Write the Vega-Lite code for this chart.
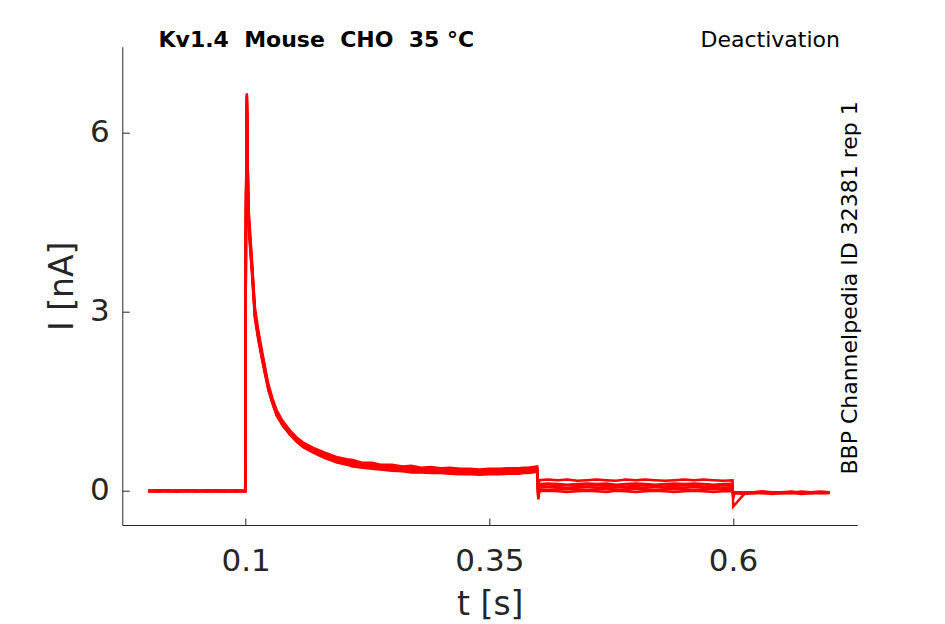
{
  "$schema": "https://vega.github.io/schema/vega-lite/v6.json",
  "width": 735,
  "height": 478.3,
  "autosize": {"type": "none"},
  "padding": {"left": 122.3, "top": 46.7, "right": 87.7, "bottom": 99},
  "config": {
    "font": "DejaVu Sans",
    "view": {"stroke": null},
    "axis": {
      "grid": false,
      "domainColor": "#262626",
      "tickColor": "#262626",
      "labelColor": "#262626",
      "titleColor": "#262626",
      "labelFont": "DejaVu Sans",
      "titleFont": "DejaVu Sans",
      "labelFontSize": 31,
      "titleFontSize": 33,
      "titleFontWeight": "normal",
      "tickSize": -7,
      "domainWidth": 1,
      "tickWidth": 1
    }
  },
  "datasets": {
    "sweeps": [
      {"s":1,"t":0,"i":0.01},{"s":1,"t":0.01,"i":-0.01},{"s":1,"t":0.02,"i":0.0},{"s":1,"t":0.03,"i":0.01},{"s":1,"t":0.04,"i":-0.01},{"s":1,"t":0.05,"i":0.0},{"s":1,"t":0.06,"i":0.01},{"s":1,"t":0.07,"i":-0.01},{"s":1,"t":0.08,"i":0.0},{"s":1,"t":0.09,"i":0.01},{"s":1,"t":0.0995,"i":0.0},
      {"s":1,"t":0.1003,"i":4.8},{"s":1,"t":0.1012,"i":6.65},{"s":1,"t":0.1027,"i":4.79},{"s":1,"t":0.1045,"i":4.33},{"s":1,"t":0.1062,"i":3.92},{"s":1,"t":0.108,"i":3.45},{"s":1,"t":0.1095,"i":3.06},{"s":1,"t":0.113,"i":2.68},{"s":1,"t":0.1164,"i":2.37},{"s":1,"t":0.12,"i":2.06},{"s":1,"t":0.1232,"i":1.79},{"s":1,"t":0.1275,"i":1.55},{"s":1,"t":0.1318,"i":1.35},{"s":1,"t":0.138,"i":1.17},{"s":1,"t":0.1455,"i":1.01},{"s":1,"t":0.152,"i":0.9},{"s":1,"t":0.159,"i":0.81},{"s":1,"t":0.1694,"i":0.72},{"s":1,"t":0.18,"i":0.65},{"s":1,"t":0.193,"i":0.57},{"s":1,"t":0.2036,"i":0.53},
      {"s":1,"t":0.21,"i":0.52},{"s":1,"t":0.22,"i":0.47},{"s":1,"t":0.23,"i":0.47},{"s":1,"t":0.2378,"i":0.44},{"s":1,"t":0.25,"i":0.44},{"s":1,"t":0.261,"i":0.41},{"s":1,"t":0.27,"i":0.42},{"s":1,"t":0.28,"i":0.39},{"s":1,"t":0.29,"i":0.4},{"s":1,"t":0.3,"i":0.38},{"s":1,"t":0.31,"i":0.39},{"s":1,"t":0.32,"i":0.37},{"s":1,"t":0.33,"i":0.37},{"s":1,"t":0.34,"i":0.36},{"s":1,"t":0.35,"i":0.37},{"s":1,"t":0.36,"i":0.37},{"s":1,"t":0.37,"i":0.38},{"s":1,"t":0.38,"i":0.38},{"s":1,"t":0.385,"i":0.39},{"s":1,"t":0.39,"i":0.39},{"s":1,"t":0.399,"i":0.41},
      {"s":1,"t":0.4002,"i":0.06},{"s":1,"t":0.4012,"i":0.18},{"s":1,"t":0.41,"i":0.19},{"s":1,"t":0.42,"i":0.18},{"s":1,"t":0.43,"i":0.19},{"s":1,"t":0.44,"i":0.17},{"s":1,"t":0.45,"i":0.18},{"s":1,"t":0.46,"i":0.19},{"s":1,"t":0.47,"i":0.18},{"s":1,"t":0.48,"i":0.17},{"s":1,"t":0.49,"i":0.19},{"s":1,"t":0.5,"i":0.18},{"s":1,"t":0.51,"i":0.19},{"s":1,"t":0.52,"i":0.18},{"s":1,"t":0.53,"i":0.17},{"s":1,"t":0.54,"i":0.18},{"s":1,"t":0.55,"i":0.19},{"s":1,"t":0.56,"i":0.18},{"s":1,"t":0.57,"i":0.19},{"s":1,"t":0.58,"i":0.18},{"s":1,"t":0.59,"i":0.17},{"s":1,"t":0.5995,"i":0.18},
      {"s":1,"t":0.6002,"i":-0.26},{"s":1,"t":0.612,"i":-0.04},{"s":1,"t":0.62,"i":-0.03},{"s":1,"t":0.63,"i":-0.01},{"s":1,"t":0.64,"i":-0.02},{"s":1,"t":0.65,"i":-0.04},{"s":1,"t":0.66,"i":-0.03},{"s":1,"t":0.67,"i":-0.01},{"s":1,"t":0.68,"i":-0.02},{"s":1,"t":0.69,"i":-0.04},{"s":1,"t":0.699,"i":-0.03},

      {"s":2,"t":0,"i":-0.01},{"s":2,"t":0.01,"i":0.0},{"s":2,"t":0.02,"i":0.01},{"s":2,"t":0.03,"i":-0.01},{"s":2,"t":0.04,"i":0.0},{"s":2,"t":0.05,"i":0.01},{"s":2,"t":0.06,"i":-0.01},{"s":2,"t":0.07,"i":0.0},{"s":2,"t":0.08,"i":0.01},{"s":2,"t":0.09,"i":-0.01},{"s":2,"t":0.0995,"i":0.0},
      {"s":2,"t":0.1003,"i":4.6},{"s":2,"t":0.1012,"i":6.55},{"s":2,"t":0.1027,"i":4.65},{"s":2,"t":0.1045,"i":4.2},{"s":2,"t":0.1062,"i":3.81},{"s":2,"t":0.108,"i":3.35},{"s":2,"t":0.1095,"i":2.97},{"s":2,"t":0.113,"i":2.6},{"s":2,"t":0.1164,"i":2.3},{"s":2,"t":0.12,"i":2.0},{"s":2,"t":0.1232,"i":1.74},{"s":2,"t":0.1275,"i":1.5},{"s":2,"t":0.1318,"i":1.31},{"s":2,"t":0.138,"i":1.14},{"s":2,"t":0.1455,"i":0.99},{"s":2,"t":0.152,"i":0.88},{"s":2,"t":0.159,"i":0.79},{"s":2,"t":0.1694,"i":0.71},{"s":2,"t":0.18,"i":0.63},{"s":2,"t":0.193,"i":0.55},{"s":2,"t":0.2036,"i":0.51},
      {"s":2,"t":0.21,"i":0.49},{"s":2,"t":0.22,"i":0.46},{"s":2,"t":0.23,"i":0.45},{"s":2,"t":0.2378,"i":0.43},{"s":2,"t":0.25,"i":0.42},{"s":2,"t":0.261,"i":0.4},{"s":2,"t":0.27,"i":0.39},{"s":2,"t":0.28,"i":0.38},{"s":2,"t":0.29,"i":0.38},{"s":2,"t":0.3,"i":0.37},{"s":2,"t":0.31,"i":0.36},{"s":2,"t":0.32,"i":0.36},{"s":2,"t":0.33,"i":0.35},{"s":2,"t":0.34,"i":0.35},{"s":2,"t":0.35,"i":0.35},{"s":2,"t":0.36,"i":0.36},{"s":2,"t":0.37,"i":0.36},{"s":2,"t":0.38,"i":0.37},{"s":2,"t":0.385,"i":0.37},{"s":2,"t":0.39,"i":0.38},{"s":2,"t":0.399,"i":0.39},
      {"s":2,"t":0.4002,"i":-0.05},{"s":2,"t":0.4012,"i":0.115},{"s":2,"t":0.41,"i":0.125},{"s":2,"t":0.42,"i":0.115},{"s":2,"t":0.43,"i":0.105},{"s":2,"t":0.44,"i":0.115},{"s":2,"t":0.45,"i":0.125},{"s":2,"t":0.46,"i":0.115},{"s":2,"t":0.47,"i":0.125},{"s":2,"t":0.48,"i":0.105},{"s":2,"t":0.49,"i":0.115},{"s":2,"t":0.5,"i":0.125},{"s":2,"t":0.51,"i":0.115},{"s":2,"t":0.52,"i":0.105},{"s":2,"t":0.53,"i":0.115},{"s":2,"t":0.54,"i":0.125},{"s":2,"t":0.55,"i":0.115},{"s":2,"t":0.56,"i":0.125},{"s":2,"t":0.57,"i":0.115},{"s":2,"t":0.58,"i":0.105},{"s":2,"t":0.59,"i":0.115},{"s":2,"t":0.5995,"i":0.12},
      {"s":2,"t":0.6002,"i":-0.12},{"s":2,"t":0.6015,"i":-0.03},{"s":2,"t":0.61,"i":-0.02},{"s":2,"t":0.62,"i":-0.04},{"s":2,"t":0.63,"i":-0.03},{"s":2,"t":0.64,"i":-0.02},{"s":2,"t":0.65,"i":-0.03},{"s":2,"t":0.66,"i":-0.04},{"s":2,"t":0.67,"i":-0.02},{"s":2,"t":0.68,"i":-0.03},{"s":2,"t":0.69,"i":-0.02},{"s":2,"t":0.699,"i":-0.03},

      {"s":3,"t":0,"i":0.0},{"s":3,"t":0.01,"i":0.01},{"s":3,"t":0.02,"i":-0.01},{"s":3,"t":0.03,"i":0.0},{"s":3,"t":0.04,"i":0.01},{"s":3,"t":0.05,"i":-0.01},{"s":3,"t":0.06,"i":0.0},{"s":3,"t":0.07,"i":0.01},{"s":3,"t":0.08,"i":-0.01},{"s":3,"t":0.09,"i":0.0},{"s":3,"t":0.0995,"i":0.01},
      {"s":3,"t":0.1003,"i":4.7},{"s":3,"t":0.1012,"i":6.6},{"s":3,"t":0.1027,"i":4.56},{"s":3,"t":0.1045,"i":4.12},{"s":3,"t":0.1062,"i":3.73},{"s":3,"t":0.108,"i":3.28},{"s":3,"t":0.1095,"i":2.91},{"s":3,"t":0.113,"i":2.55},{"s":3,"t":0.1164,"i":2.25},{"s":3,"t":0.12,"i":1.96},{"s":3,"t":0.1232,"i":1.71},{"s":3,"t":0.1275,"i":1.47},{"s":3,"t":0.1318,"i":1.28},{"s":3,"t":0.138,"i":1.11},{"s":3,"t":0.1455,"i":0.96},{"s":3,"t":0.152,"i":0.86},{"s":3,"t":0.159,"i":0.77},{"s":3,"t":0.1694,"i":0.69},{"s":3,"t":0.18,"i":0.61},{"s":3,"t":0.193,"i":0.53},{"s":3,"t":0.2036,"i":0.49},
      {"s":3,"t":0.21,"i":0.47},{"s":3,"t":0.22,"i":0.45},{"s":3,"t":0.23,"i":0.42},{"s":3,"t":0.2378,"i":0.41},{"s":3,"t":0.25,"i":0.4},{"s":3,"t":0.261,"i":0.38},{"s":3,"t":0.27,"i":0.37},{"s":3,"t":0.28,"i":0.36},{"s":3,"t":0.29,"i":0.36},{"s":3,"t":0.3,"i":0.35},{"s":3,"t":0.31,"i":0.35},{"s":3,"t":0.32,"i":0.34},{"s":3,"t":0.33,"i":0.33},{"s":3,"t":0.34,"i":0.34},{"s":3,"t":0.35,"i":0.33},{"s":3,"t":0.36,"i":0.34},{"s":3,"t":0.37,"i":0.34},{"s":3,"t":0.38,"i":0.35},{"s":3,"t":0.385,"i":0.35},{"s":3,"t":0.39,"i":0.36},{"s":3,"t":0.399,"i":0.37},
      {"s":3,"t":0.4002,"i":-0.09},{"s":3,"t":0.4012,"i":0.085},{"s":3,"t":0.41,"i":0.075},{"s":3,"t":0.42,"i":0.085},{"s":3,"t":0.43,"i":0.095},{"s":3,"t":0.44,"i":0.085},{"s":3,"t":0.45,"i":0.075},{"s":3,"t":0.46,"i":0.095},{"s":3,"t":0.47,"i":0.085},{"s":3,"t":0.48,"i":0.095},{"s":3,"t":0.49,"i":0.075},{"s":3,"t":0.5,"i":0.085},{"s":3,"t":0.51,"i":0.095},{"s":3,"t":0.52,"i":0.085},{"s":3,"t":0.53,"i":0.075},{"s":3,"t":0.54,"i":0.085},{"s":3,"t":0.55,"i":0.095},{"s":3,"t":0.56,"i":0.085},{"s":3,"t":0.57,"i":0.075},{"s":3,"t":0.58,"i":0.085},{"s":3,"t":0.59,"i":0.095},{"s":3,"t":0.5995,"i":0.085},
      {"s":3,"t":0.6002,"i":-0.1},{"s":3,"t":0.6015,"i":-0.04},{"s":3,"t":0.61,"i":-0.03},{"s":3,"t":0.62,"i":-0.02},{"s":3,"t":0.63,"i":-0.04},{"s":3,"t":0.64,"i":-0.03},{"s":3,"t":0.65,"i":-0.02},{"s":3,"t":0.66,"i":-0.03},{"s":3,"t":0.67,"i":-0.04},{"s":3,"t":0.68,"i":-0.02},{"s":3,"t":0.69,"i":-0.03},{"s":3,"t":0.699,"i":-0.03},

      {"s":4,"t":0,"i":0.01},{"s":4,"t":0.01,"i":0.0},{"s":4,"t":0.02,"i":0.01},{"s":4,"t":0.03,"i":-0.01},{"s":4,"t":0.04,"i":0.0},{"s":4,"t":0.05,"i":0.01},{"s":4,"t":0.06,"i":0.0},{"s":4,"t":0.07,"i":-0.01},{"s":4,"t":0.08,"i":0.0},{"s":4,"t":0.09,"i":0.01},{"s":4,"t":0.0995,"i":-0.01},
      {"s":4,"t":0.1003,"i":4.5},{"s":4,"t":0.1012,"i":6.5},{"s":4,"t":0.1027,"i":4.7},{"s":4,"t":0.1045,"i":4.24},{"s":4,"t":0.1062,"i":3.85},{"s":4,"t":0.108,"i":3.38},{"s":4,"t":0.1095,"i":3.0},{"s":4,"t":0.113,"i":2.63},{"s":4,"t":0.1164,"i":2.32},{"s":4,"t":0.12,"i":2.02},{"s":4,"t":0.1232,"i":1.75},{"s":4,"t":0.1275,"i":1.51},{"s":4,"t":0.1318,"i":1.3},{"s":4,"t":0.138,"i":1.12},{"s":4,"t":0.1455,"i":0.96},{"s":4,"t":0.152,"i":0.85},{"s":4,"t":0.159,"i":0.76},{"s":4,"t":0.1694,"i":0.67},{"s":4,"t":0.18,"i":0.59},{"s":4,"t":0.193,"i":0.51},{"s":4,"t":0.2036,"i":0.47},
      {"s":4,"t":0.21,"i":0.46},{"s":4,"t":0.22,"i":0.42},{"s":4,"t":0.23,"i":0.41},{"s":4,"t":0.2378,"i":0.39},{"s":4,"t":0.25,"i":0.37},{"s":4,"t":0.261,"i":0.36},{"s":4,"t":0.27,"i":0.36},{"s":4,"t":0.28,"i":0.34},{"s":4,"t":0.29,"i":0.33},{"s":4,"t":0.3,"i":0.33},{"s":4,"t":0.31,"i":0.32},{"s":4,"t":0.32,"i":0.32},{"s":4,"t":0.33,"i":0.31},{"s":4,"t":0.34,"i":0.3},{"s":4,"t":0.35,"i":0.31},{"s":4,"t":0.36,"i":0.31},{"s":4,"t":0.37,"i":0.32},{"s":4,"t":0.38,"i":0.32},{"s":4,"t":0.385,"i":0.33},{"s":4,"t":0.39,"i":0.34},{"s":4,"t":0.399,"i":0.35},
      {"s":4,"t":0.4002,"i":-0.11},{"s":4,"t":0.4012,"i":0.055},{"s":4,"t":0.41,"i":0.065},{"s":4,"t":0.42,"i":0.055},{"s":4,"t":0.43,"i":0.045},{"s":4,"t":0.44,"i":0.055},{"s":4,"t":0.45,"i":0.065},{"s":4,"t":0.46,"i":0.055},{"s":4,"t":0.47,"i":0.045},{"s":4,"t":0.48,"i":0.065},{"s":4,"t":0.49,"i":0.055},{"s":4,"t":0.5,"i":0.045},{"s":4,"t":0.51,"i":0.055},{"s":4,"t":0.52,"i":0.065},{"s":4,"t":0.53,"i":0.055},{"s":4,"t":0.54,"i":0.045},{"s":4,"t":0.55,"i":0.055},{"s":4,"t":0.56,"i":0.065},{"s":4,"t":0.57,"i":0.055},{"s":4,"t":0.58,"i":0.045},{"s":4,"t":0.59,"i":0.055},{"s":4,"t":0.5995,"i":0.055},
      {"s":4,"t":0.6002,"i":-0.08},{"s":4,"t":0.6015,"i":-0.02},{"s":4,"t":0.61,"i":-0.03},{"s":4,"t":0.62,"i":-0.02},{"s":4,"t":0.63,"i":-0.01},{"s":4,"t":0.64,"i":-0.03},{"s":4,"t":0.65,"i":-0.02},{"s":4,"t":0.66,"i":-0.01},{"s":4,"t":0.67,"i":-0.03},{"s":4,"t":0.68,"i":-0.02},{"s":4,"t":0.69,"i":-0.01},{"s":4,"t":0.699,"i":-0.02},

      {"s":5,"t":0,"i":0.0},{"s":5,"t":0.01,"i":-0.01},{"s":5,"t":0.02,"i":0.0},{"s":5,"t":0.03,"i":0.01},{"s":5,"t":0.04,"i":0.0},{"s":5,"t":0.05,"i":-0.01},{"s":5,"t":0.06,"i":0.01},{"s":5,"t":0.07,"i":0.0},{"s":5,"t":0.08,"i":-0.01},{"s":5,"t":0.09,"i":0.0},{"s":5,"t":0.0995,"i":0.0},
      {"s":5,"t":0.1003,"i":4.8},{"s":5,"t":0.1012,"i":6.62},{"s":5,"t":0.1027,"i":4.6},{"s":5,"t":0.1045,"i":4.16},{"s":5,"t":0.1062,"i":3.77},{"s":5,"t":0.108,"i":3.32},{"s":5,"t":0.1095,"i":2.94},{"s":5,"t":0.113,"i":2.57},{"s":5,"t":0.1164,"i":2.28},{"s":5,"t":0.12,"i":1.98},{"s":5,"t":0.1232,"i":1.72},{"s":5,"t":0.1275,"i":1.48},{"s":5,"t":0.1318,"i":1.28},{"s":5,"t":0.138,"i":1.1},{"s":5,"t":0.1455,"i":0.94},{"s":5,"t":0.152,"i":0.83},{"s":5,"t":0.159,"i":0.74},{"s":5,"t":0.1694,"i":0.65},{"s":5,"t":0.18,"i":0.57},{"s":5,"t":0.193,"i":0.49},{"s":5,"t":0.2036,"i":0.45},
      {"s":5,"t":0.21,"i":0.43},{"s":5,"t":0.22,"i":0.4},{"s":5,"t":0.23,"i":0.39},{"s":5,"t":0.2378,"i":0.37},{"s":5,"t":0.25,"i":0.36},{"s":5,"t":0.261,"i":0.34},{"s":5,"t":0.27,"i":0.33},{"s":5,"t":0.28,"i":0.32},{"s":5,"t":0.29,"i":0.32},{"s":5,"t":0.3,"i":0.31},{"s":5,"t":0.31,"i":0.3},{"s":5,"t":0.32,"i":0.3},{"s":5,"t":0.33,"i":0.29},{"s":5,"t":0.34,"i":0.29},{"s":5,"t":0.35,"i":0.29},{"s":5,"t":0.36,"i":0.3},{"s":5,"t":0.37,"i":0.3},{"s":5,"t":0.38,"i":0.3},{"s":5,"t":0.385,"i":0.31},{"s":5,"t":0.39,"i":0.32},{"s":5,"t":0.399,"i":0.33},
      {"s":5,"t":0.4002,"i":-0.13},{"s":5,"t":0.4012,"i":0.025},{"s":5,"t":0.41,"i":0.015},{"s":5,"t":0.42,"i":0.025},{"s":5,"t":0.43,"i":0.035},{"s":5,"t":0.44,"i":0.025},{"s":5,"t":0.45,"i":0.015},{"s":5,"t":0.46,"i":0.025},{"s":5,"t":0.47,"i":0.035},{"s":5,"t":0.48,"i":0.025},{"s":5,"t":0.49,"i":0.015},{"s":5,"t":0.5,"i":0.035},{"s":5,"t":0.51,"i":0.025},{"s":5,"t":0.52,"i":0.015},{"s":5,"t":0.53,"i":0.025},{"s":5,"t":0.54,"i":0.035},{"s":5,"t":0.55,"i":0.025},{"s":5,"t":0.56,"i":0.015},{"s":5,"t":0.57,"i":0.025},{"s":5,"t":0.58,"i":0.035},{"s":5,"t":0.59,"i":0.025},{"s":5,"t":0.5995,"i":0.025},
      {"s":5,"t":0.6002,"i":-0.06},{"s":5,"t":0.6015,"i":-0.03},{"s":5,"t":0.61,"i":-0.04},{"s":5,"t":0.62,"i":-0.02},{"s":5,"t":0.63,"i":-0.03},{"s":5,"t":0.64,"i":-0.04},{"s":5,"t":0.65,"i":-0.02},{"s":5,"t":0.66,"i":-0.03},{"s":5,"t":0.67,"i":-0.02},{"s":5,"t":0.68,"i":-0.04},{"s":5,"t":0.69,"i":-0.03},{"s":5,"t":0.699,"i":-0.02},

      {"s":6,"t":0,"i":-0.01},{"s":6,"t":0.01,"i":0.01},{"s":6,"t":0.02,"i":0.0},{"s":6,"t":0.03,"i":-0.01},{"s":6,"t":0.04,"i":0.01},{"s":6,"t":0.05,"i":0.0},{"s":6,"t":0.06,"i":-0.01},{"s":6,"t":0.07,"i":0.01},{"s":6,"t":0.08,"i":0.0},{"s":6,"t":0.09,"i":-0.01},{"s":6,"t":0.0995,"i":0.0},
      {"s":6,"t":0.1003,"i":4.6},{"s":6,"t":0.1012,"i":6.45},{"s":6,"t":0.1027,"i":4.51},{"s":6,"t":0.1045,"i":4.07},{"s":6,"t":0.1062,"i":3.7},{"s":6,"t":0.108,"i":3.25},{"s":6,"t":0.1095,"i":2.88},{"s":6,"t":0.113,"i":2.52},{"s":6,"t":0.1164,"i":2.23},{"s":6,"t":0.12,"i":1.94},{"s":6,"t":0.1232,"i":1.69},{"s":6,"t":0.1275,"i":1.46},{"s":6,"t":0.1318,"i":1.26},{"s":6,"t":0.138,"i":1.09},{"s":6,"t":0.1455,"i":0.94},{"s":6,"t":0.152,"i":0.83},{"s":6,"t":0.159,"i":0.73},{"s":6,"t":0.1694,"i":0.64},{"s":6,"t":0.18,"i":0.56},{"s":6,"t":0.193,"i":0.48},{"s":6,"t":0.2036,"i":0.44},
      {"s":6,"t":0.21,"i":0.41},{"s":6,"t":0.22,"i":0.39},{"s":6,"t":0.23,"i":0.37},{"s":6,"t":0.2378,"i":0.36},{"s":6,"t":0.25,"i":0.34},{"s":6,"t":0.261,"i":0.33},{"s":6,"t":0.27,"i":0.31},{"s":6,"t":0.28,"i":0.31},{"s":6,"t":0.29,"i":0.3},{"s":6,"t":0.3,"i":0.3},{"s":6,"t":0.31,"i":0.29},{"s":6,"t":0.32,"i":0.28},{"s":6,"t":0.33,"i":0.28},{"s":6,"t":0.34,"i":0.27},{"s":6,"t":0.35,"i":0.28},{"s":6,"t":0.36,"i":0.28},{"s":6,"t":0.37,"i":0.29},{"s":6,"t":0.38,"i":0.29},{"s":6,"t":0.385,"i":0.3},{"s":6,"t":0.39,"i":0.3},{"s":6,"t":0.399,"i":0.32},
      {"s":6,"t":0.4002,"i":-0.14},{"s":6,"t":0.4012,"i":-0.005},{"s":6,"t":0.41,"i":0.005},{"s":6,"t":0.42,"i":-0.005},{"s":6,"t":0.43,"i":-0.015},{"s":6,"t":0.44,"i":-0.005},{"s":6,"t":0.45,"i":0.005},{"s":6,"t":0.46,"i":-0.005},{"s":6,"t":0.47,"i":-0.015},{"s":6,"t":0.48,"i":0.005},{"s":6,"t":0.49,"i":-0.005},{"s":6,"t":0.5,"i":-0.015},{"s":6,"t":0.51,"i":-0.005},{"s":6,"t":0.52,"i":0.005},{"s":6,"t":0.53,"i":-0.005},{"s":6,"t":0.54,"i":-0.015},{"s":6,"t":0.55,"i":-0.005},{"s":6,"t":0.56,"i":0.005},{"s":6,"t":0.57,"i":-0.005},{"s":6,"t":0.58,"i":-0.015},{"s":6,"t":0.59,"i":-0.005},{"s":6,"t":0.5995,"i":-0.005},
      {"s":6,"t":0.6002,"i":-0.05},{"s":6,"t":0.6015,"i":-0.03},{"s":6,"t":0.61,"i":-0.05},{"s":6,"t":0.62,"i":-0.04},{"s":6,"t":0.63,"i":-0.03},{"s":6,"t":0.64,"i":-0.05},{"s":6,"t":0.65,"i":-0.04},{"s":6,"t":0.66,"i":-0.03},{"s":6,"t":0.67,"i":-0.05},{"s":6,"t":0.68,"i":-0.04},{"s":6,"t":0.69,"i":-0.03},{"s":6,"t":0.699,"i":-0.04}
    ]
  },
  "layer": [
    {
      "data": {"name": "sweeps"},
      "mark": {"type": "line", "color": "#ff0000", "strokeWidth": 2.5, "clip": true},
      "encoding": {
        "x": {
          "field": "t", "type": "quantitative",
          "scale": {"domain": [-0.0266, 0.7275], "nice": false, "zero": false},
          "axis": {"title": "t [s]", "values": [0.1, 0.35, 0.6], "format": "~g", "labelPadding": 28, "titlePadding": 12}
        },
        "y": {
          "field": "i", "type": "quantitative",
          "scale": {"domain": [-0.569, 7.43], "nice": false, "zero": false},
          "axis": {"title": "I [nA]", "values": [0, 3, 6], "format": "~g", "labelPadding": 20, "titlePadding": 10}
        },
        "detail": {"field": "s", "type": "nominal"}
      }
    },
    {
      "data": {"values": [{"label": "Kv1.4\u00a0\u00a0Mouse\u00a0\u00a0CHO\u00a0\u00a035 °C"}]},
      "mark": {"type": "text", "font": "DejaVu Sans", "fontSize": 22, "fontWeight": "bold", "color": "#000000", "align": "center", "baseline": "alphabetic"},
      "encoding": {
        "x": {"datum": 0.1725, "type": "quantitative"},
        "y": {"datum": 7.425, "type": "quantitative"},
        "text": {"field": "label", "type": "nominal"}
      }
    },
    {
      "data": {"values": [{"label": "Deactivation"}]},
      "mark": {"type": "text", "font": "DejaVu Sans", "fontSize": 22, "color": "#000000", "align": "right", "baseline": "alphabetic"},
      "encoding": {
        "x": {"datum": 0.7097, "type": "quantitative"},
        "y": {"datum": 7.43, "type": "quantitative"},
        "text": {"field": "label", "type": "nominal"}
      }
    },
    {
      "data": {"values": [{"label": "BBP Channelpedia ID 32381 rep 1"}]},
      "mark": {"type": "text", "font": "DejaVu Sans", "fontSize": 22, "color": "#000000", "align": "center", "baseline": "alphabetic", "angle": 270},
      "encoding": {
        "x": {"datum": 0.7275, "type": "quantitative"},
        "y": {"datum": 3.396, "type": "quantitative"},
        "text": {"field": "label", "type": "nominal"}
      }
    }
  ]
}
